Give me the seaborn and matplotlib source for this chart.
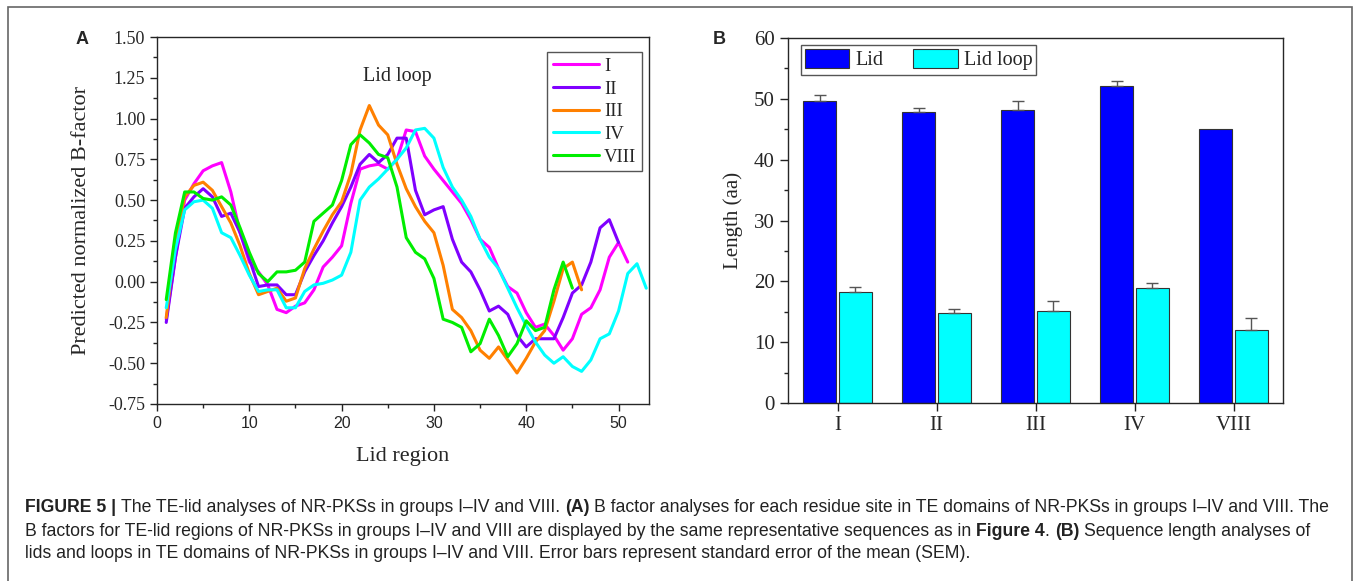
import numpy as np
import pandas as pd
import seaborn as sns
import matplotlib
matplotlib.use("Agg")
import matplotlib.pyplot as plt
from matplotlib.ticker import MultipleLocator, FormatStrFormatter
from matplotlib.patches import Patch, Rectangle

# --- panel A: predicted normalized B-factor per lid residue ---
b_I = [-0.23, 0.15, 0.50, 0.60, 0.68, 0.71, 0.73, 0.55, 0.30, 0.12,
       0.06, -0.02, -0.17, -0.19, -0.15, -0.13, -0.05, 0.09, 0.15, 0.22,
       0.48, 0.69, 0.71, 0.72, 0.69, 0.75, 0.93, 0.92, 0.77, 0.69,
       0.62, 0.55, 0.48, 0.38, 0.26, 0.21, 0.08, -0.03, -0.07, -0.19,
       -0.28, -0.26, -0.33, -0.42, -0.35, -0.20, -0.16, -0.05, 0.15, 0.24,
       0.12]
b_II = [-0.25, 0.15, 0.45, 0.52, 0.57, 0.52, 0.40, 0.42, 0.30, 0.14,
        -0.03, -0.02, -0.02, -0.08, -0.08, 0.06, 0.16, 0.25, 0.36, 0.46,
        0.58, 0.72, 0.78, 0.73, 0.78, 0.88, 0.88, 0.56, 0.41, 0.44,
        0.46, 0.26, 0.12, 0.06, -0.05, -0.18, -0.15, -0.20, -0.33, -0.40,
        -0.35, -0.35, -0.35, -0.22, -0.07, -0.02, 0.12, 0.33, 0.38, 0.24]
b_III = [-0.22, 0.25, 0.52, 0.59, 0.61, 0.56, 0.46, 0.36, 0.22, 0.05,
         -0.08, -0.06, -0.04, -0.12, -0.10, 0.08, 0.20, 0.31, 0.41, 0.49,
         0.66, 0.93, 1.08, 0.96, 0.90, 0.72, 0.57, 0.46, 0.37, 0.30,
         0.10, -0.17, -0.22, -0.30, -0.42, -0.47, -0.40, -0.48, -0.56, -0.47,
         -0.37, -0.30, -0.12, 0.08, 0.12, -0.05]
b_IV = [-0.16, 0.20, 0.44, 0.49, 0.50, 0.45, 0.30, 0.27, 0.16, 0.04,
        -0.06, -0.05, -0.05, -0.16, -0.16, -0.06, -0.02, -0.01, 0.01, 0.04,
        0.18, 0.50, 0.58, 0.63, 0.69, 0.75, 0.82, 0.93, 0.94, 0.88,
        0.70, 0.58, 0.50, 0.40, 0.26, 0.15, 0.08, -0.04, -0.16, -0.27,
        -0.37, -0.45, -0.50, -0.46, -0.52, -0.55, -0.48, -0.35, -0.32, -0.18,
        0.05, 0.11, -0.04]
b_VIII = [-0.11, 0.30, 0.55, 0.55, 0.51, 0.50, 0.52, 0.47, 0.33, 0.18,
          0.05, 0.00, 0.06, 0.06, 0.07, 0.12, 0.37, 0.42, 0.47, 0.62,
          0.84, 0.90, 0.85, 0.78, 0.76, 0.58, 0.27, 0.18, 0.14, 0.02,
          -0.23, -0.25, -0.28, -0.43, -0.38, -0.23, -0.33, -0.46, -0.38, -0.24,
          -0.30, -0.28, -0.05, 0.12, -0.04]
series_names = ["I", "II", "III", "IV", "VIII"]
series_colors = ["#FF00FF", "#8000FF", "#FF8000", "#00FFFF", "#00EE00"]

# --- panel B: lid / lid loop lengths ---
groups = ["I", "II", "III", "IV", "VIII"]
lid_len = [49.7, 47.9, 48.2, 52.1, 45.0]
lid_sem = [0.9, 0.6, 1.4, 0.9, 0.0]
loop_len = [18.2, 14.8, 15.2, 18.9, 12.0]
loop_sem = [0.8, 0.6, 1.5, 0.9, 2.0]

caption_lines = [
    [("FIGURE 5 |", True),
     (" The TE-lid analyses of NR-PKSs in groups I\u2013IV and VIII.", False),
     (" (A)", True),
     (" B factor analyses for each residue site in TE domains of NR-PKSs in groups I\u2013IV and VIII. The", False)],
    [("B factors for TE-lid regions of NR-PKSs in groups I\u2013IV and VIII are displayed by the same representative sequences as in", False),
     (" Figure 4", True), (".", False), (" (B)", True),
     (" Sequence length analyses of", False)],
    [("lids and loops in TE domains of NR-PKSs in groups I\u2013IV and VIII. Error bars represent standard error of the mean (SEM).", False)],
]

W, H = 1357, 581
SANS = ["Liberation Sans", "DejaVu Sans"]


def layout_line(fig, renderer, pieces, x0, y, size, draw=True):
    """Place the pieces of one caption line left to right; return the end x (px)."""
    probe = fig.text(0, 0, "a a", fontsize=size, family=SANS)
    w_sp = probe.get_window_extent(renderer).width
    probe.set_text("aa")
    space = w_sp - probe.get_window_extent(renderer).width
    probe.remove()
    x = x0
    for text, bold in pieces:
        x += (len(text) - len(text.lstrip(" "))) * space
        t = fig.text(x / W, 1 - y / H, text.lstrip(" "), fontsize=size,
                     family=SANS, fontweight="bold" if bold else "normal",
                     ha="left", va="center", color="#222222")
        x += t.get_window_extent(renderer).width
        if not draw:
            t.remove()
    return x


def draw_caption(fig, lines, x0, ys, width, size=13.0):
    renderer = fig.canvas.get_renderer()
    # fit the first line to the measured width of the reference caption
    natural = layout_line(fig, renderer, lines[0], x0, ys[0], size, draw=False) - x0
    size = size * width / natural
    for pieces, y in zip(lines, ys):
        layout_line(fig, renderer, pieces, x0, y, size)


sns.set_style("ticks")
plt.rcParams["font.family"] = ["Liberation Serif", "DejaVu Serif"]
plt.rcParams["axes.unicode_minus"] = False
plt.rcParams["axes.linewidth"] = 1.0

fig = plt.figure(figsize=(W / 100, H / 100), dpi=100)
ax_a = fig.add_axes([157 / W, 1 - 404 / H, 492 / W, 367 / H])
ax_b = fig.add_axes([788 / W, 1 - 403 / H, 495 / W, 365 / H])

# Panel A
for name, vals, col in zip(series_names, [b_I, b_II, b_III, b_IV, b_VIII], series_colors):
    sns.lineplot(x=np.arange(1, len(vals) + 1), y=vals, color=col, lw=2.2,
                 label=name, ax=ax_a)
ax_a.set_xlim(0, 53.3)
ax_a.set_ylim(-0.75, 1.5)
ax_a.xaxis.set_major_locator(MultipleLocator(10))
ax_a.xaxis.set_minor_locator(MultipleLocator(5))
ax_a.yaxis.set_major_locator(MultipleLocator(0.25))
ax_a.yaxis.set_minor_locator(MultipleLocator(0.125))
ax_a.yaxis.set_major_formatter(FormatStrFormatter("%.2f"))
ax_a.tick_params(which="both", direction="out", top=False, right=False, width=1, color="#222222")
ax_a.tick_params(which="major", length=5)
ax_a.tick_params(which="minor", length=3)
ax_a.tick_params(axis="y", labelsize=13)
ax_a.tick_params(axis="x", labelsize=11.5, labelfontfamily="Liberation Sans")
ax_a.set_xlabel("Lid region", fontsize=16, labelpad=12)
ax_a.set_ylabel("Predicted normalized B-factor", fontsize=16, labelpad=12)
ax_a.text(26, 1.26, "Lid loop", fontsize=14.5, ha="center", va="center")
leg = ax_a.legend(loc="upper right", bbox_to_anchor=(0.986, 0.959), borderaxespad=0,
                  fontsize=13.5, handlelength=2.45, handletextpad=0.3, labelspacing=0.3,
                  borderpad=0.3, fancybox=False, edgecolor="#555555", framealpha=1)
leg.get_frame().set_linewidth(1.0)

# Panel B
df_bar = pd.DataFrame({
    "group": groups * 2,
    "part": ["Lid"] * len(groups) + ["Lid loop"] * len(groups),
    "length": lid_len + loop_len,
})
palette = {"Lid": "#0000FF", "Lid loop": "#00FFFF"}
sns.barplot(data=df_bar, x="group", y="length", hue="part", palette=palette,
            width=0.72, gap=0.06, saturation=1, edgecolor="#333333", linewidth=0.8,
            errorbar=None, legend=False, ax=ax_b)
for cont, sems in zip(ax_b.containers, [lid_sem, loop_sem]):
    xs = [b.get_x() + b.get_width() / 2 for b, s in zip(cont, sems) if s > 0]
    hs = [b.get_height() for b, s in zip(cont, sems) if s > 0]
    es = [s for s in sems if s > 0]
    ax_b.errorbar(xs, hs, yerr=[np.zeros(len(es)), es], fmt="none", ecolor="#555555",
                  elinewidth=1, capsize=4, capthick=1)
ax_b.set_xlim(-0.5, 4.5)
ax_b.set_ylim(0, 60)
ax_b.yaxis.set_major_locator(MultipleLocator(10))
ax_b.yaxis.set_minor_locator(MultipleLocator(5))
ax_b.tick_params(which="both", direction="out", top=False, right=False, width=1, color="#222222")
ax_b.tick_params(which="major", length=6)
ax_b.tick_params(which="minor", length=3)
ax_b.tick_params(axis="x", which="minor", bottom=False)
ax_b.tick_params(labelsize=15)
ax_b.set_xlabel("")
ax_b.set_ylabel("Length (aa)", fontsize=15, labelpad=8)
handles = [Patch(facecolor=palette[k], edgecolor="#333333", linewidth=0.8, label=k) for k in palette]
leg_b = ax_b.legend(handles=handles, ncol=2, loc="upper left", bbox_to_anchor=(0.026, 0.981),
                    borderaxespad=0, fontsize=14.5, handlelength=2.2, handleheight=1.1,
                    handletextpad=0.3, columnspacing=1.5, borderpad=0.2, fancybox=False,
                    edgecolor="#555555", framealpha=1)
leg_b.get_frame().set_linewidth(1.0)

# panel letters, frame and caption
fig.text(82 / W, 1 - 40 / H, "A", fontsize=13, fontweight="bold", family=SANS, ha="center", va="center")
fig.text(719 / W, 1 - 39 / H, "B", fontsize=13, fontweight="bold", family=SANS, ha="center", va="center")
fig.add_artist(Rectangle((8 / W, -0.01), (1352 - 8) / W, 1.01 - 7 / H, transform=fig.transFigure,
                         fill=False, edgecolor="#666666", linewidth=1.2))
draw_caption(fig, caption_lines, 25, [508, 531, 553], width=1303)

fig.savefig("out.png", dpi=100)
